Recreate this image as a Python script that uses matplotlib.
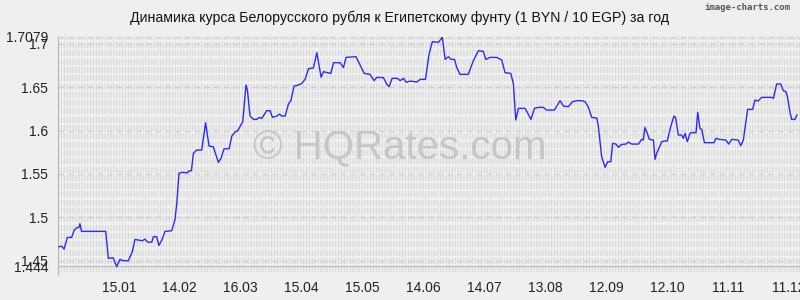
import numpy as np
import matplotlib
matplotlib.use("Agg")
import matplotlib.pyplot as plt

plt.rcParams["font.family"] = ["Liberation Sans", "DejaVu Sans"]
plt.rcParams["lines.scale_dashes"] = False

title = "Динамика курса Белорусского рубля к Египетскому фунту (1 BYN / 10 EGP) за год"

# day offset from the first point, and rate
days = [0.5, 1.8, 3.0, 4.6, 6.7, 8.0, 9.2, 10.3, 10.8, 11.6, 23.5, 24.8, 27.2, 28.9,
        30.5, 32.2, 34.6, 36.6, 37.9, 41.5, 42.8, 44.2, 46.2, 47.0, 48.6, 49.7,
        51.3, 52.7, 56.0, 57.6, 58.5, 59.6, 60.8, 63.8, 64.4, 65.7, 66.7, 68.3,
        70.8, 72.7, 74.4, 76.5, 79.0, 80.3, 81.8, 84.3, 85.6, 87.3, 88.4, 91.0,
        92.6, 93.3, 94.6, 96.3, 97.9, 99.2, 100.4, 102.8, 104.5, 105.6, 107.8,
        109.1, 110.2, 111.9, 113.5, 114.7, 116.3, 118.4, 120.1, 121.7, 123.4,
        125.8, 127.5, 129.6, 130.8, 132.7, 134.4, 135.7, 139.0, 140.6, 141.9,
        146.8, 148.8, 150.8, 153.7, 155.7, 157.0, 160.3, 162.0, 163.1, 164.6,
        167.2, 168.5, 170.2, 171.5, 173.5, 176.8, 178.4, 181.0, 182.8, 184.4,
        187.4, 189.3, 190.7, 192.3, 193.6, 195.3, 196.4, 198.0, 202.1, 204.6,
        207.1, 209.5, 210.7, 212.8, 216.1, 218.6, 220.2, 223.0, 224.3, 225.5,
        226.8, 230.1, 233.0, 234.7, 236.6, 239.1, 240.7, 244.5, 247.3, 249.0,
        251.4, 253.4, 255.5, 258.0, 259.6, 261.3, 262.9, 265.4, 266.2, 267.8,
        269.5, 270.8, 272.3, 273.2, 274.9, 276.0, 277.6, 279.8, 280.9, 282.6,
        285.9, 287.5, 288.3, 289.1, 290.3, 291.3, 293.3, 294.1, 294.9, 297.4,
        298.5, 300.1, 301.8, 303.4, 304.2, 305.6, 307.2, 308.0, 308.9, 310.0,
        311.3, 312.1, 314.3, 315.1, 316.2, 317.1, 318.4, 323.1, 324.1, 325.8,
        329.0, 330.4, 331.9, 335.1, 336.3, 337.6, 338.4, 339.7, 342.2, 343.3,
        344.9, 346.6, 351.5, 352.4, 354.0, 356.0, 357.3, 358.6, 359.3, 360.6,
        361.4, 363.0, 364.0]
rate = [1.4663, 1.4670, 1.4636, 1.4770, 1.4770, 1.4854, 1.4881, 1.4885, 1.4930,
        1.4840, 1.4840, 1.4530, 1.4536, 1.4433, 1.4517, 1.4502, 1.4502, 1.4605,
        1.4747, 1.4732, 1.4751, 1.4716, 1.4716, 1.4778, 1.4778, 1.4678, 1.4747,
        1.4840, 1.4847, 1.4970, 1.5161, 1.5507, 1.5518, 1.5514, 1.5534, 1.5537,
        1.5737, 1.5775, 1.5775, 1.6090, 1.5821, 1.5813, 1.5633, 1.5679, 1.5790,
        1.5790, 1.5936, 1.5986, 1.5994, 1.6100, 1.6523, 1.6465, 1.6166, 1.6128,
        1.6128, 1.6151, 1.6140, 1.6228, 1.6228, 1.6151, 1.6166, 1.6189, 1.6166,
        1.6166, 1.6304, 1.6343, 1.6512, 1.6523, 1.6542, 1.6588, 1.6711, 1.6719,
        1.6895, 1.6612, 1.6677, 1.6665, 1.6657, 1.6780, 1.6780, 1.6723, 1.6841,
        1.6849, 1.6753, 1.6657, 1.6646, 1.6573, 1.6611, 1.6608, 1.6531, 1.6504,
        1.6600, 1.6600, 1.6573, 1.6600, 1.6554, 1.6569, 1.6558, 1.6588, 1.6588,
        1.6880, 1.7022, 1.7014, 1.7072, 1.6818, 1.6849, 1.6818, 1.6818, 1.6726,
        1.6646, 1.6646, 1.6803, 1.6918, 1.6910, 1.6818, 1.6841, 1.6841, 1.6811,
        1.6665, 1.6657, 1.6542, 1.6120, 1.6255, 1.6255, 1.6128, 1.6255, 1.6266,
        1.6266, 1.6235, 1.6235, 1.6343, 1.6281, 1.6274, 1.6331, 1.6343, 1.6343,
        1.6331, 1.6266, 1.6151, 1.6143, 1.6044, 1.5698, 1.5576, 1.5641, 1.5641,
        1.5852, 1.5844, 1.5806, 1.5840, 1.5844, 1.5867, 1.5844, 1.5844, 1.5898,
        1.5890, 1.6036, 1.5967, 1.5898, 1.5890, 1.5668, 1.5737, 1.5871, 1.5879,
        1.5879, 1.6044, 1.6166, 1.6151, 1.5948, 1.5948, 1.5910, 1.5967, 1.5871,
        1.5967, 1.5975, 1.5975, 1.6209, 1.6025, 1.6013, 1.5860, 1.5860, 1.5910,
        1.5898, 1.5890, 1.5844, 1.5898, 1.5890, 1.5825, 1.5890, 1.6025, 1.6243,
        1.6243, 1.6350, 1.6339, 1.6381, 1.6381, 1.6370, 1.6535, 1.6535, 1.6458,
        1.6446, 1.6389, 1.6205, 1.6128, 1.6128, 1.6178]

ytick_vals = [1.444, 1.45, 1.5, 1.55, 1.6, 1.65, 1.7, 1.7079]
ytick_labels = ["1.444", "1.45", "1.5", "1.55", "1.6", "1.65", "1.7", "1.7079"]
xtick_days = [30, 60, 90, 120, 150, 180, 210, 240, 270, 300, 330, 360]
xtick_labels = ["15.01", "14.02", "16.03", "15.04", "15.05", "14.06", "14.07",
                "13.08", "12.09", "12.10", "11.11", "11.12"]

bg = "#efefef"
fig = plt.figure(figsize=(8, 3), dpi=100, facecolor=bg)
ax = fig.add_axes([0.0725, 0.083, 0.9275, 0.7947], facecolor=bg)
ax.set_xlim(0, 365.5)
ax.set_ylim(1.4337, 1.7079)

# textured background rows (rows of short vertical marks)
for f in np.arange(1.0, -0.01, -8.3 / 238.3):
    ax.plot([0, 1], [f, f], transform=ax.transAxes, color="#d6d6d6", lw=4.3,
            dashes=(0.8, 1.3), solid_capstyle="butt", zorder=0)

# dashed reference lines at the labelled values
for v in ytick_vals:
    if v == ytick_vals[0]:
        ax.axhline(v, color="#bdbdbd", lw=0.9, zorder=1)
    else:
        ax.axhline(v, color="#cfcfcf", lw=0.9, dashes=(4, 3), zorder=1)

fig.text(0.5, 0.507, "© HQRates.com", ha="center", va="center", fontsize=29,
         color="#c6c6c6", zorder=0.5)

ax.plot(days, rate, color="#2b2bff", lw=1.0, zorder=3)

ax.set_yticks(ytick_vals)
ax.set_yticklabels(ytick_labels)
ax.set_xticks(xtick_days)
ax.set_xticklabels(xtick_labels)
ax.tick_params(axis="both", length=0, labelsize=10, colors="#222222")
ax.tick_params(axis="y", pad=7)
ax.tick_params(axis="x", pad=4)
for s in ["top", "right", "bottom"]:
    ax.spines[s].set_visible(False)
ax.spines["left"].set_color("#b5b5b5")
ax.spines["left"].set_linewidth(0.8)

fig.text(0.5, 0.94, title, ha="center", va="center", fontsize=10.2, color="#111111")
fig.text(0.988, 0.975, "image-charts.com", ha="right", va="center", fontsize=6.5,
         color="#555555", family=["DejaVu Sans Mono", "DejaVu Sans"], weight="bold")

fig.savefig("out.png", dpi=100, facecolor=bg)
